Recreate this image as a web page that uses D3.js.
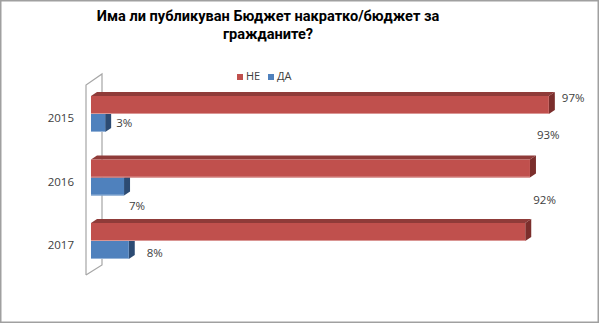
<!DOCTYPE html>
<html><head><meta charset="utf-8">
<script src="https://cdn.jsdelivr.net/npm/d3@7"></script>
<style>body{margin:0;background:#fff}svg{display:block}text{font-family:"Open Sans",sans-serif}</style>
</head><body><svg id="c" width="600" height="324"></svg>
<script>
const years = ["2015","2016","2017"];
const ne = [97, 93, 92];
const da = [3, 7, 8];
const seriesNames = ["НЕ", "ДА"];
const titleLines = ["Има ли публикуван Бюджет накратко/бюджет за", "гражданите?"];

// layout constants
const neLabelOff = [[13,3],[7,-24],[8,-22]];
const daLabelOff = [[11,10],[5,29],[18,13]];

const svg = d3.select("#c");
svg.append("rect").attr("x",0.75).attr("y",0.75).attr("width",597.5).attr("height",321.5)
  .attr("fill","#fff").attr("stroke","#a0a0a0").attr("stroke-width",1.5);

const x = d3.scaleLinear().domain([0,100]).range([91,563]);
const y = d3.scaleBand().domain(years).range([77,267.5]).padding(0);
const bh = 18, d = 6, dz = 4;

// title
const tt = svg.selectAll("text.title").data(titleLines).join("text")
  .attr("x",268).attr("y",(t,i)=>21+i*18).attr("text-anchor","middle")
  .style("font-family","Roboto, sans-serif")
  .attr("font-size",15.5).attr("font-weight","bold").attr("fill","#000").text(t=>t);
// fit first line to reference width
const w0 = tt.nodes()[0].getComputedTextLength();
if (w0 > 0) tt.attr("font-size", 15.5*343/w0);

// wall
const wall = svg.append("g").attr("fill","none").attr("stroke","#a6a6a6").attr("stroke-width",1.2);
wall.append("path").attr("d",`M86,275 L86,85 L102,74 L102,265 L86,275`);

const colors = {
  ne:{front:"#C0504D", top:"#8F3B39", side:"#7B2E2C", edge:"#DA9694"},
  da:{front:"#4F81BD", top:"#385D8A", side:"#2C4B73", edge:"#95B3D7"}
};

function bar(g, x0, x1, yt, c){
  const yb = yt+bh;
  g.append("path").attr("d",`M${x0},${yt} L${x0+d},${yt-dz} L${x1+d},${yt-dz} L${x1},${yt}Z`).attr("fill",c.top);
  g.append("path").attr("d",`M${x1},${yt} L${x1+d},${yt-dz} L${x1+d},${yb-dz} L${x1},${yb}Z`).attr("fill",c.side);
  g.append("rect").attr("x",x0).attr("y",yt).attr("width",x1-x0).attr("height",bh).attr("fill",c.front);
  g.append("line").attr("x1",x0).attr("x2",x1).attr("y1",yb-0.5).attr("y2",yb-0.5).attr("stroke",c.edge).attr("stroke-width",1);
}

const g = svg.append("g");
years.forEach((yr,i)=>{
  const top = y(yr)+19;
  bar(g, x(0), x(da[i]), top+bh, colors.da);
  bar(g, x(0), x(ne[i]), top, colors.ne);
});

// year labels
svg.selectAll("text.yr").data(years).join("text")
  .attr("x",74).attr("y",yr=>y(yr)+y.step()/2+10.5).attr("text-anchor","end")
  .attr("dominant-baseline","middle").attr("font-size",11.5).attr("fill","#404040").text(yr=>yr);

// data labels
years.forEach((yr,i)=>{
  const top = y(yr)+19;
  svg.append("text").attr("x",x(ne[i])+neLabelOff[i][0]).attr("y",top+neLabelOff[i][1])
    .attr("dominant-baseline","middle").attr("font-size",11.5).attr("fill","#404040").text(ne[i]+"%");
  svg.append("text").attr("x",x(da[i])+daLabelOff[i][0]).attr("y",top+bh+daLabelOff[i][1])
    .attr("dominant-baseline","middle").attr("font-size",11.5).attr("fill","#404040").text(da[i]+"%");
});

// legend
const leg = svg.append("g");
const legX = [237, 268];
[colors.ne.front, colors.da.front].forEach((c,i)=>{
  leg.append("rect").attr("x",legX[i]).attr("y",74).attr("width",6).attr("height",6).attr("fill",c);
  leg.append("text").attr("x",legX[i]+9).attr("y",77.5).attr("dominant-baseline","middle")
    .attr("font-size",11).attr("fill","#404040").text(seriesNames[i]);
});
</script></body></html>
